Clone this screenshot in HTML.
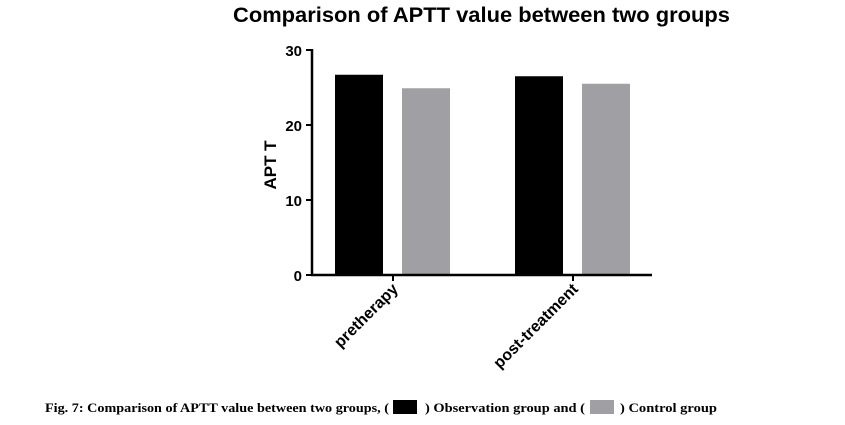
<!DOCTYPE html>
<html><head><meta charset="utf-8"><style>
body{margin:0;background:#fff;width:845px;height:425px;overflow:hidden}
svg{display:block}
</style></head><body>
<svg width="845" height="425">
<text x="233" y="22" textLength="497" lengthAdjust="spacingAndGlyphs" font-family="Liberation Sans, sans-serif" font-weight="bold" font-size="21" fill="#000">Comparison of APTT value between two groups</text>
<g id="plot"></g>
<text transform="translate(276,165) rotate(-90)" text-anchor="middle" font-family="Liberation Sans, sans-serif" font-weight="bold" font-size="17">APT T</text>
<g font-family="Liberation Serif, serif" font-weight="bold" font-size="12.5">
<text x="45" y="412" textLength="344" lengthAdjust="spacingAndGlyphs">Fig. 7: Comparison of APTT value between two groups, (</text>
<text x="425" y="412" textLength="160" lengthAdjust="spacingAndGlyphs">) Observation group and (</text>
<text x="620" y="412" textLength="97" lengthAdjust="spacingAndGlyphs">) Control group</text>
</g>
<rect x="393" y="400" width="24" height="14" fill="#000"/>
<rect x="590" y="400" width="24" height="14" fill="#a0a0a4"/>
</svg>
<script>
const categories=["pretherapy","post-treatment"];
const observation=[26.7,26.5];
const control=[24.9,25.5];
const yTicks=[0,10,20,30];
const NS="http://www.w3.org/2000/svg";
const g=document.getElementById("plot");
const y=v=>275-v*7.5;
const cx=i=>393+i*180;
function mk(t,a){const e=document.createElementNS(NS,t);for(const k in a)e.setAttribute(k,a[k]);g.appendChild(e);return e;}
categories.forEach((c,i)=>{
 let b=mk("rect",{x:cx(i)-58,y:y(observation[i]),width:48,height:275-y(observation[i]),fill:"#000"});
 
 
 let b2=mk("rect",{x:cx(i)+9,y:y(control[i]),width:48,height:275-y(control[i]),fill:"#a0a0a4"});
 
 
 let t=mk("line",{x1:cx(i),x2:cx(i),y1:275,y2:281,stroke:"#000","stroke-width":2});
 
 
 let l=mk("text",{transform:`translate(${cx(i)+6},290) rotate(-45)`,"text-anchor":"end","font-family":"Liberation Sans, sans-serif","font-weight":"bold","font-size":"16"});
 l.textContent=c;
 
 
});
yTicks.forEach(v=>{
 let t=mk("line",{x1:306,x2:312,y1:y(v),y2:y(v),stroke:"#000","stroke-width":2});
 
 
 let l=mk("text",{x:302,y:y(v)+6,"text-anchor":"end","font-family":"Liberation Sans, sans-serif","font-weight":"bold","font-size":"15"});
 l.textContent=v;
 
 
});
let ya=mk("line",{x1:312,x2:312,y1:49,y2:276,stroke:"#000","stroke-width":2.5});


let xa=mk("line",{x1:311,x2:652,y1:275,y2:275,stroke:"#000","stroke-width":2.5});


</script>
</body></html>
